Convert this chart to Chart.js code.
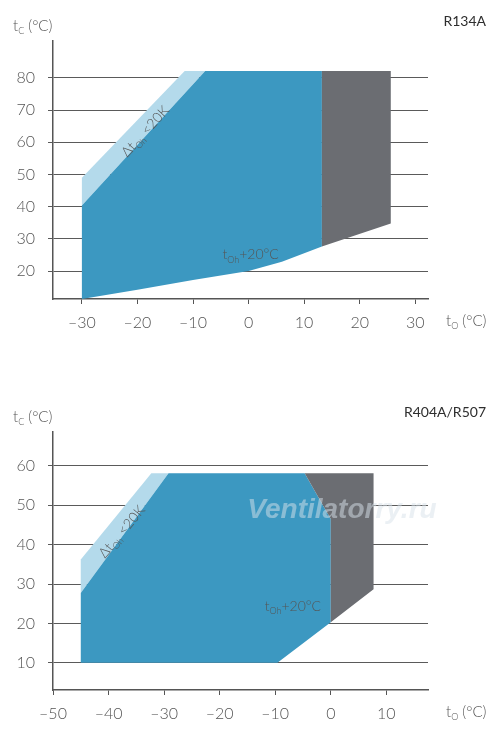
<!DOCTYPE html>
<html>
<head>
<meta charset="utf-8">
<script src="https://cdn.jsdelivr.net/npm/chart.js@4.4.1/dist/chart.umd.min.js"></script>
<style>
  html, body { margin: 0; padding: 0; background: #fff; }
  .box { position: absolute; left: 0; width: 500px; }
  #top { top: 0; height: 370px; }
  #bottom { top: 370px; height: 373px; }
</style>
</head>
<body>
<div class="box" id="top"><canvas id="chartTop"></canvas></div>
<div class="box" id="bottom"><canvas id="chartBottom"></canvas></div>
<script>
// R134A
const topXTicks = [-30, -20, -10, 0, 10, 20, 30];
const topYTicks = [20, 30, 40, 50, 60, 70, 80];
const topBandX = [-30, -30, -11.5, -7.8, -30];
const topBandY = [40.4, 49, 82.2, 82.2, 40.4];
const topBlueX = [-30, -7.8, 13.2, 13.2, 6, 0, -10, -20, -30, -30];
const topBlueY = [40.4, 82.2, 82.2, 27.6, 22.9, 20, 17.2, 14.2, 11.3, 40.4];
const topGreyX = [13.2, 25.6, 25.6, 13.2, 13.2];
const topGreyY = [82.2, 82.2, 34.8, 27.6, 82.2];

// R404A/R507
const botXTicks = [-50, -40, -30, -20, -10, 0, 10];
const botYTicks = [10, 20, 30, 40, 50, 60];
const botBandX = [-45, -45, -32.3, -29.2, -45];
const botBandY = [27.7, 36.2, 58.1, 58.1, 27.7];
const botBlueX = [-45, -29.2, -4.7, 0, 0, -9.6, -45, -45];
const botBlueY = [27.7, 58.1, 58.1, 46.5, 20.3, 10, 10, 27.7];
const botGreyX = [-4.7, 7.7, 7.7, 0, 0, -4.7];
const botGreyY = [58.1, 58.1, 28.7, 20.3, 46.5, 58.1];

const BLUE = "#3c98c1";
const LIGHT = "#b4daeb";
const GREY = "#6b6d72";
const TEXT = "#555";
const FONT = "Lato";

function points(xs, ys) {
    return xs.map((x, i) => ({ x: x, y: ys[i] }));
}

function polygon(xs, ys, color, order) {
    return {
        data: points(xs, ys),
        backgroundColor: color,
        borderWidth: 0,
        pointRadius: 0,
        tension: 0,
        fill: "shape",
        order: order,
    };
}

// текст с подстрочным индексом: main + sub + rest
function subText(ctx, x, y, main, sub, rest, size) {
    ctx.textBaseline = "middle";
    ctx.textAlign = "left";
    ctx.font = `300 ${size}px ${FONT}`;
    ctx.fillText(main, x, y);
    x += ctx.measureText(main).width;
    ctx.font = `300 ${Math.round(size * 0.62)}px ${FONT}`;
    ctx.fillText(sub, x, y + size * 0.35);
    x += ctx.measureText(sub).width;
    ctx.font = `300 ${size}px ${FONT}`;
    ctx.fillText(rest, x, y);
}

function subWidth(ctx, main, sub, rest, size) {
    ctx.font = `300 ${size}px ${FONT}`;
    let w = ctx.measureText(main + rest).width;
    ctx.font = `300 ${Math.round(size * 0.62)}px ${FONT}`;
    return w + ctx.measureText(sub).width;
}

const labelsPlugin = {
    id: "labels",
    afterDraw(chart, args, opts) {
        const ctx = chart.ctx;
        const xs = chart.scales.x;
        const ys = chart.scales.y;
        ctx.save();
        ctx.fillStyle = TEXT;

        subText(ctx, 13, opts.yTitleY, "t", "C", " (°C)", 15);
        subText(ctx, 446, opts.xTitleY, "t", "O", " (°C)", 15);

        ctx.font = `normal 14px ${FONT}`;
        ctx.fillStyle = "#2e2e2e";
        ctx.textAlign = "right";
        ctx.textBaseline = "middle";
        ctx.fillText(opts.name, 486, opts.nameY);

        // Δt_Oh <20K вдоль диагонали
        ctx.fillStyle = TEXT;
        ctx.save();
        ctx.translate(xs.getPixelForValue(opts.deltaAt[0]), ys.getPixelForValue(opts.deltaAt[1]));
        ctx.rotate(opts.deltaAngle * Math.PI / 180);
        const w = subWidth(ctx, "Δt", "Oh", " <20K", 14);
        subText(ctx, -w / 2, 0, "Δt", "Oh", " <20K", 14);
        ctx.restore();

        subText(ctx, xs.getPixelForValue(opts.ohAt[0]), ys.getPixelForValue(opts.ohAt[1]), "t", "Oh", "+20°C", 14);

        if (opts.watermark) {
            ctx.font = `bold italic 28px "Liberation Sans"`;
            ctx.fillStyle = "rgba(215,226,233,0.5)";
            ctx.textAlign = "center";
            ctx.textBaseline = "middle";
            ctx.fillText(opts.watermark, opts.watermarkAt[0], opts.watermarkAt[1]);
        }
        ctx.restore();
    },
};

function makeChart(id, cfg) {
    new Chart(document.getElementById(id), {
        type: "line",
        data: {
            datasets: [
                polygon(cfg.band[0], cfg.band[1], LIGHT, 3),
                polygon(cfg.blue[0], cfg.blue[1], BLUE, 2),
                polygon(cfg.grey[0], cfg.grey[1], GREY, 1),
            ],
        },
        options: {
            responsive: true,
            maintainAspectRatio: false,
            animation: false,
            layout: { padding: { left: 0, right: 72, top: cfg.padTop, bottom: 0 } },
            plugins: {
                legend: { display: false },
                tooltip: { enabled: false },
                labels: cfg.labels,
            },
            scales: {
                x: {
                    type: "linear",
                    min: cfg.xMin,
                    max: cfg.xMax,
                    z: 1,
                    afterBuildTicks: (s) => { s.ticks = cfg.xTicks.map((v) => ({ value: v })); },
                    afterFit: (s) => { s.height = cfg.xHeight; },
                    border: { display: true, color: "#555", width: 1.5 },
                    grid: { drawOnChartArea: false, drawTicks: true, tickLength: 5, color: "#555" },
                    ticks: {
                        padding: 9,
                        color: TEXT,
                        font: { family: FONT, size: 16, weight: "300" },
                        callback: (v) => (v < 0 ? "–" + Math.abs(v) : String(v)),
                    },
                },
                y: {
                    type: "linear",
                    min: cfg.yMin,
                    max: cfg.yMax,
                    z: 1,
                    afterBuildTicks: (s) => { s.ticks = cfg.yTicks.map((v) => ({ value: v })); },
                    afterFit: (s) => { s.width = 53; },
                    border: { display: true, color: "#555", width: 1.5 },
                    grid: { drawTicks: true, tickLength: 5, color: "#5a5a5a", lineWidth: 1 },
                    ticks: {
                        padding: 13,
                        color: TEXT,
                        font: { family: FONT, size: 16, weight: "300" },
                    },
                },
            },
        },
        plugins: [labelsPlugin],
    });
}

makeChart("chartTop", {
    band: [topBandX, topBandY],
    blue: [topBlueX, topBlueY],
    grey: [topGreyX, topGreyY],
    xTicks: topXTicks,
    yTicks: topYTicks,
    xMin: -35.2, xMax: 32.3,
    yMin: 11.3, yMax: 91.5,
    padTop: 41,
    xHeight: 71,
    labels: {
        name: "R134A",
        nameY: 21,
        yTitleY: 26,
        xTitleY: 321,
        deltaAt: [-18.6, 63.4],
        deltaAngle: -47.7,
        ohAt: [-4.7, 25],
    },
});

makeChart("chartBottom", {
    band: [botBandX, botBandY],
    blue: [botBlueX, botBlueY],
    grey: [botGreyX, botGreyY],
    xTicks: botXTicks,
    yTicks: botYTicks,
    xMin: -50, xMax: 17.5,
    yMin: 3.1, yMax: 68.6,
    padTop: 62,
    xHeight: 53,
    labels: {
        name: "R404A/R507",
        nameY: 42,
        yTitleY: 47,
        xTitleY: 342,
        deltaAt: [-37.6, 43.3],
        deltaAngle: -50,
        ohAt: [-11.9, 24.4],
        watermark: "Ventilatorry.ru",
        watermarkAt: [342, 140],
    },
});
</script>
</body>
</html>
